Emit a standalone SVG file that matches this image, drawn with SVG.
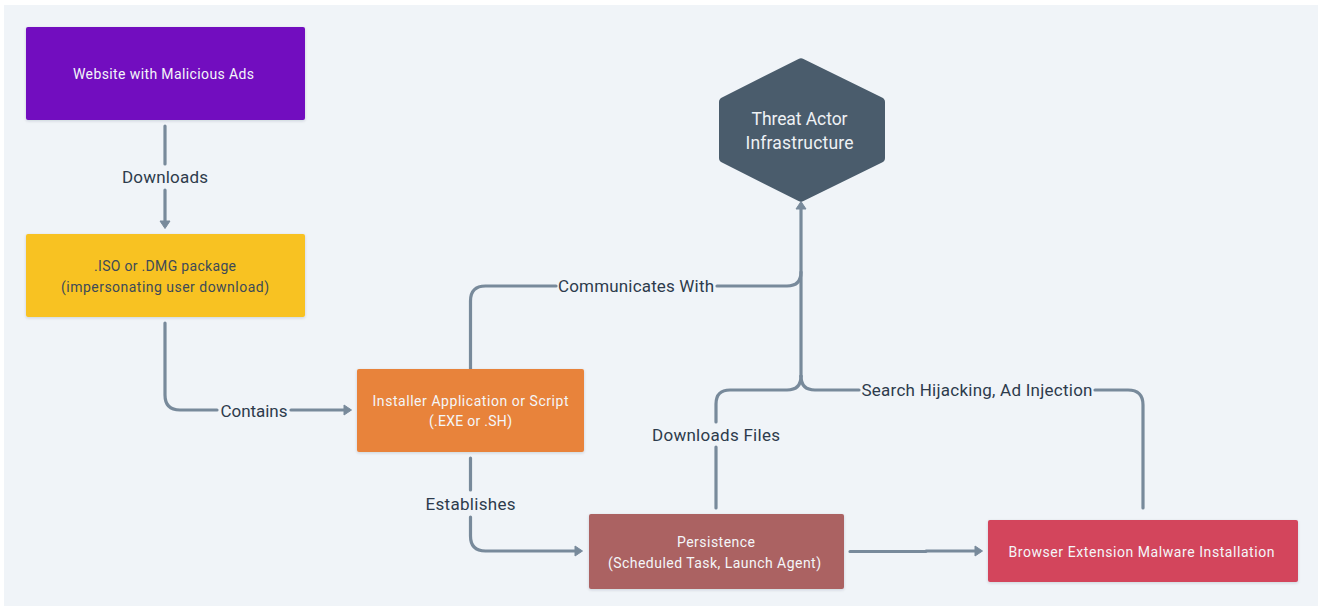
<svg xmlns="http://www.w3.org/2000/svg" width="1318" height="607" viewBox="0 0 1318 607">
<style>
text{font-family:"Roboto","Liberation Sans",sans-serif;text-anchor:middle}
.n{font-size:14px}
.w{fill:#f4f6f9}
.d{fill:#3d4a58}
.l{font-size:17px;fill:#2d3b4c}
.h{font-size:17.500px;fill:#eef1f4}
.c{fill:none;stroke:#788a9b;stroke-width:3.200;stroke-linecap:round;stroke-linejoin:round}
.box{filter:url(#s)}
</style>
<defs>
<filter id="s" x="-5%" y="-10%" width="110%" height="125%"><feDropShadow dx="0" dy="1" stdDeviation="1.500" flood-color="#1a2a3a" flood-opacity="0.160"/></filter>
<marker id="a" markerUnits="userSpaceOnUse" markerWidth="14" markerHeight="14" refX="3" refY="7" orient="auto"><path d="M2 2L9.500 7L2 12Z" fill="#788a9b" stroke="#788a9b" stroke-linejoin="round"/></marker>
</defs>
<rect width="1318" height="607" fill="#fff"/>
<rect x="4" y="5" width="1314" height="601" fill="#f0f4f8"/>
<g id="connectors">
<path class="c" d="M165 126V164"/>
<path class="c" d="M165 190V222" marker-end="url(#a)"/>
<path class="c" d="M165 323V395Q165 410 180 410H217"/>
<path class="c" d="M291 410H345" marker-end="url(#a)"/>
<path class="c" d="M470.500 369V301Q470.500 286 485.500 286H556"/>
<path class="c" d="M717 286H787Q801 286 801 272"/>
<path class="c" d="M801 376V208" marker-end="url(#a)"/>
<path class="c" d="M470.500 458V490"/>
<path class="c" d="M470.500 517V536Q470.500 551 485.500 551H576" marker-end="url(#a)"/>
<path class="c" d="M716 508V447"/>
<path class="c" d="M716 422V404Q716 390 730 390H787Q801 390 801 376"/>
<path class="c" d="M801 376Q801 390 815 390H859"/>
<path class="c" d="M1095 390H1128Q1143 390 1143 405V508"/>
<path class="c" d="M850 551.500H926V551H976" marker-end="url(#a)"/>
</g>
<g id="website"><rect class="box" x="26" y="27" width="279" height="93" rx="2" fill="#7210bf"/><text class="n w" x="163.500" y="78.500" textLength="181">Website with Malicious Ads</text></g>
<g id="package"><rect class="box" x="26" y="234" width="279" height="83" rx="2" fill="#f8c223"/><text class="n d" x="165" y="270.500" textLength="142">.ISO or .DMG package</text><text class="n d" x="165" y="291.500" textLength="208">(impersonating user download)</text></g>
<g id="installer"><rect class="box" x="357" y="369" width="227" height="83" rx="2" fill="#e8833a"/><text class="n w" x="470.500" y="405.500" textLength="196">Installer Application or Script</text><text class="n w" x="470.500" y="426" textLength="83">(.EXE or .SH)</text></g>
<g id="persistence"><rect class="box" x="589" y="514" width="255" height="75" rx="2" fill="#ab6262"/><text class="n w" x="716" y="546.500" textLength="78">Persistence</text><text class="n w" x="714.500" y="567.500" textLength="213">(Scheduled Task, Launch Agent)</text></g>
<g id="extension"><rect class="box" x="988" y="520" width="310" height="62" rx="2" fill="#d3455b"/><text class="n w" x="1141.500" y="556.500" textLength="266">Browser Extension Malware Installation</text></g>
<g id="threat"><path d="M798.500 59Q801 57.500 803.500 59L882 97.500Q885 99 885 102V158Q885 161 882 162.500L803.500 201Q801 202.500 798.500 201L722 162.500Q719 161 719 158V102Q719 99 722 97.500Z" fill="#4a5c6c"/><text class="h" x="799.500" y="124.500" textLength="96">Threat Actor</text><text class="h" x="799.500" y="149" textLength="108">Infrastructure</text></g>
<g id="labels">
<text class="l" x="165" y="183" textLength="86">Downloads</text>
<text class="l" x="254" y="416.500" textLength="67">Contains</text>
<text class="l" x="636" y="291.500" textLength="156">Communicates With</text>
<text class="l" x="470.500" y="509.500" textLength="90">Establishes</text>
<text class="l" x="716" y="441" textLength="128">Downloads Files</text>
<text class="l" x="977" y="395.500" textLength="231">Search Hijacking, Ad Injection</text>
</g>
</svg>
